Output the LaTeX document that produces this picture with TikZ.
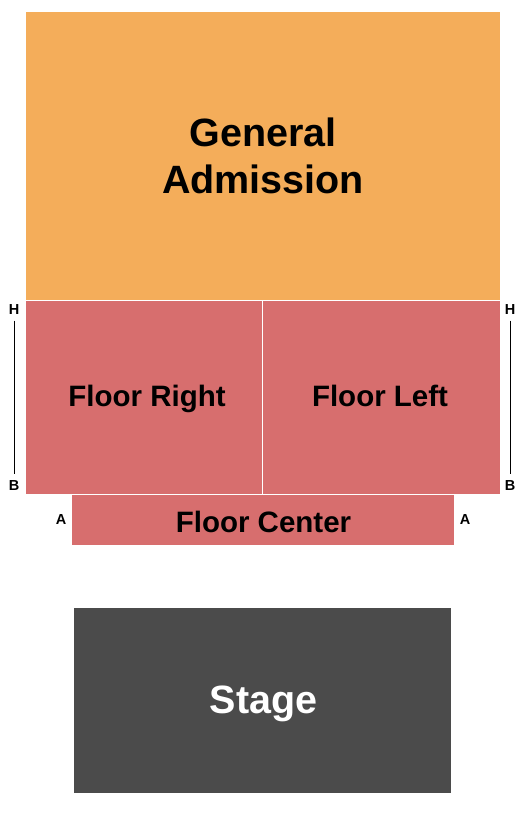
\documentclass[tikz,border=0pt]{standalone}
\usepackage{fontspec}
\setmainfont{Liberation Sans}
\definecolor{gacolor}{HTML}{F4AD5A}
\definecolor{floorcolor}{HTML}{D76E6E}
\definecolor{stagecolor}{HTML}{4B4B4B}
\tikzset{
  seclabel/.style={font=\bfseries\fontsize{29.5}{35}\selectfont, text=black, anchor=base},
  biglabel/.style={font=\bfseries\fontsize{39.5}{47}\selectfont, align=center},
  rowlabel/.style={font=\bfseries\fontsize{14.5}{16}\selectfont, text=black},
  rowline/.style={line width=0.8pt, shorten <=2pt, shorten >=3pt}
}
\begin{document}
\begin{tikzpicture}[x=1pt,y=-1pt]
  \useasboundingbox (0,0) rectangle (525,820);

  % General Admission block
  \fill[gacolor] (26,12) rectangle (500,300);
  \node[biglabel] (ga) at (263,156) {General\\Admission};

  % Floor sections
  \fill[floorcolor] (26,301) rectangle (262,494);
  \fill[floorcolor] (263,301) rectangle (500,494);
  \fill[floorcolor] (72,495) rectangle (454,545);
  \node[seclabel] (fright) at (147,406) {Floor Right};
  \node[seclabel] (fleft) at (380,406) {Floor Left};
  \node[seclabel] (fcenter) at (263.5,532) {Floor Center};

  % Row markers
  \node[rowlabel] (hleft) at (14,310) {H};
  \node[rowlabel] (bleft) at (14,486) {B};
  \draw[rowline] (hleft.south) -- (bleft.north);
  \node[rowlabel] (hright) at (510,310) {H};
  \node[rowlabel] (bright) at (510,486) {B};
  \draw[rowline] (hright.south) -- (bright.north);
  \node[rowlabel] (aleft) at (61,520) {A};
  \node[rowlabel] (aright) at (465,520) {A};

  % Stage
  \fill[stagecolor] (74,608) rectangle (451,793);
  \node[biglabel, text=white, anchor=base] (stage) at (263.5,713) {Stage};
\end{tikzpicture}
\end{document}
